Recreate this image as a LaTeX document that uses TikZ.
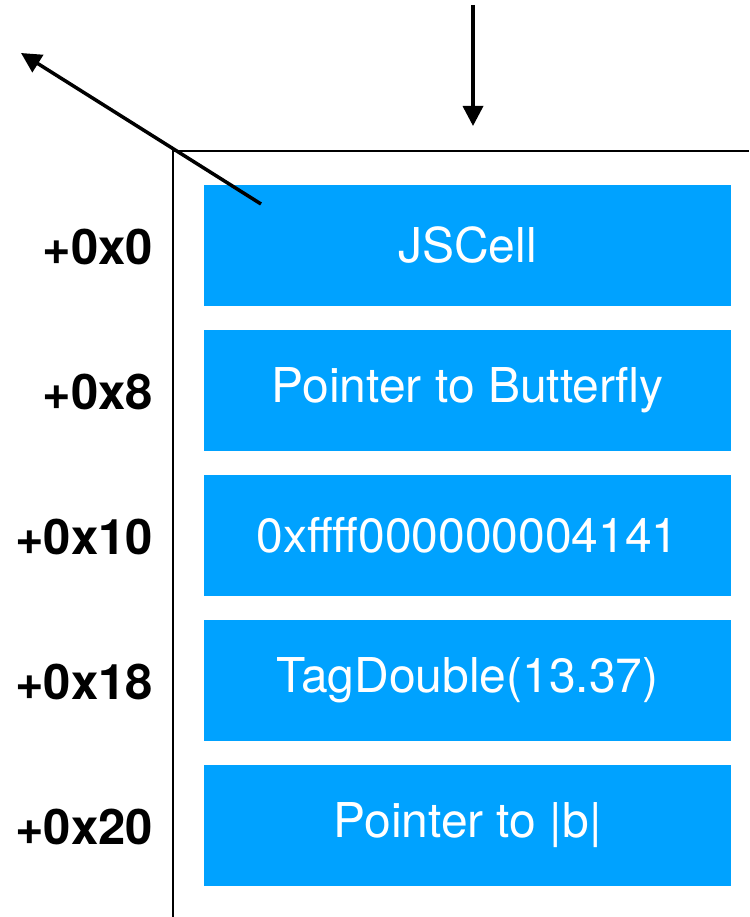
\documentclass[tikz,border=0pt]{standalone}
\usepackage{fontspec}
\setmainfont{TeX Gyre Heros}
\usetikzlibrary{arrows.meta}
\definecolor{cellblue}{RGB}{0,162,255}
\begin{document}
\begin{tikzpicture}[x=1pt,y=-1pt,
  cellbox/.style={fill=cellblue,draw=none,minimum width=527pt,minimum height=121pt,inner sep=0pt,text=white,font=\fontsize{48}{52}\selectfont},
  offlabel/.style={anchor=east,inner sep=0pt,font=\fontsize{49}{52}\selectfont\bfseries},
  frame/.style={line width=2pt,black},
  ptr/.style={line width=3.5pt,-{Triangle[length=20pt,width=20pt]}}]
\useasboundingbox (0,0) rectangle (749,917);
\draw[frame] (173,917) -- (173,151) -- (749,151);
\foreach \i/\t/\o in {0/JSCell/+0x0, 1/Pointer to Butterfly/+0x8, 2/0xffff000000004141/+0x10, 3/TagDouble(13.37)/+0x18, 4/Pointer to |b|/+0x20}{
  \node[cellbox] (c\i) at (467.5,245.5+145*\i) {\t};
  \node[offlabel] (l\i) at (153,247+145*\i) {\o};
}
\coordinate (ptrtail) at (261,204);
\coordinate (ptrhead) at (21,53);
\draw[ptr] (ptrtail) -- (ptrhead);
\coordinate (intop) at (473,5);
\coordinate (inend) at (473,126);
\draw[ptr] (intop) -- (inend);
\end{tikzpicture}
\end{document}
